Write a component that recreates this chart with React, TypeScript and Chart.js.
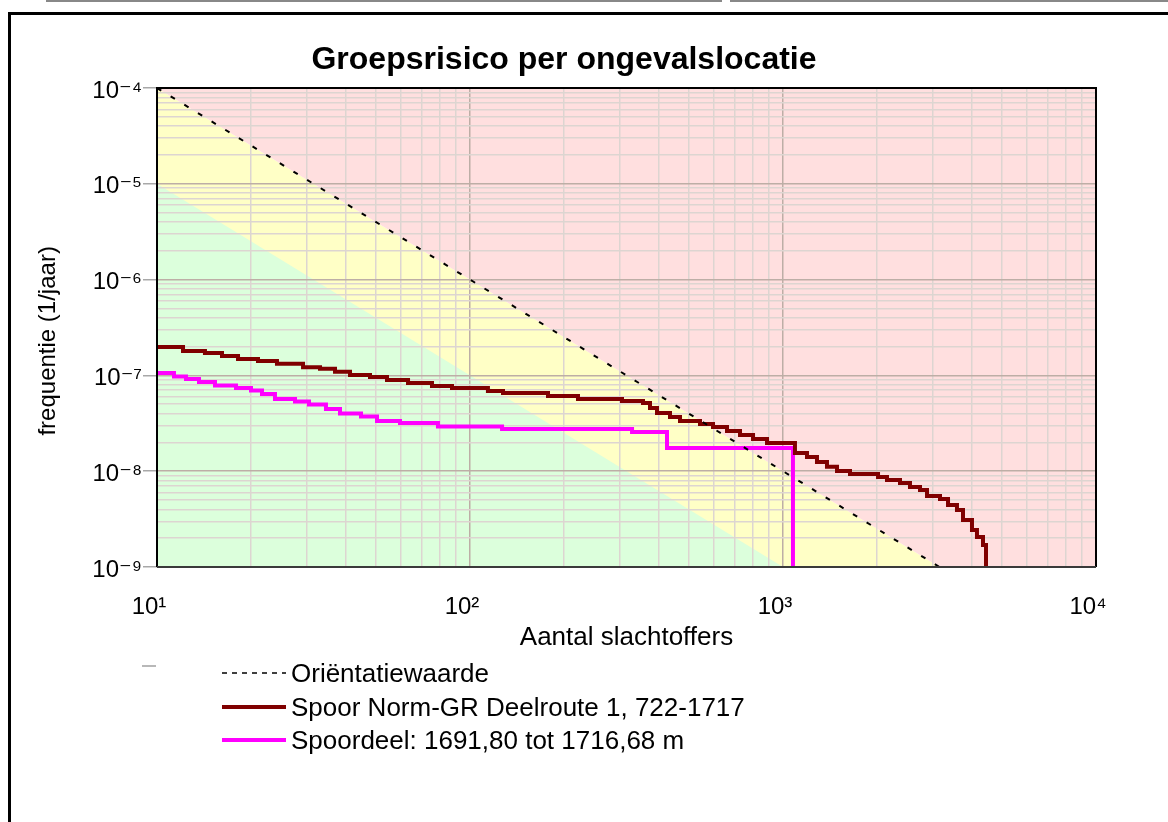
import React, { useEffect, useRef } from "react";
import { Chart, registerables } from "chart.js";

Chart.register(...registerables);

const FONT = "'Liberation Sans', Arial, 'DejaVu Sans', sans-serif";

const chartTitle = "Groepsrisico per ongevalslocatie";
const xAxisTitle = "Aantal slachtoffers";
const yAxisTitle = "frequentie (1/jaar)";
const seriesLabels = [
  "Oriëntatiewaarde",
  "Spoor Norm-GR Deelroute 1, 722-1717",
  "Spoordeel: 1691,80 tot 1716,68 m",
];
const seriesColors = ["#000000", "#800000", "#ff00ff"];

const xDecades = [10, 100, 1000, 10000];
const xTickLabels = ["10¹", "10²", "10³", "10⁴"];
const yDecades = [1e-9, 1e-8, 1e-7, 1e-6, 1e-5, 1e-4];
const yTickLabels = ["10⁻⁹", "10⁻⁸", "10⁻⁷", "10⁻⁶", "10⁻⁵", "10⁻⁴"];
const minorSteps = [1, 2, 3, 4, 5, 6, 7, 8, 9];

// Oriëntatiewaarde: F = 1e-2 / N^2
const orientationN = [10, 3162.28];
const orientationF = [1e-4, 1e-9];

// zone boundaries (red above orientation line, yellow between, green below)
const redZoneEdgeN = [10, 10000];
const redZoneEdgeF = [1e-4, 1e-10];
const greenZoneEdgeN = [10, 10000];
const greenZoneEdgeF = [1e-5, 1e-11];

const routeN = [10, 12.11, 14.23, 16.13, 18.15, 21.02, 24.17, 29.28, 33.18, 37.05, 41.37, 47.92, 54.3, 63.39, 75.6, 87.6, 114.1, 127.5, 177.5, 221.3, 305.9, 357.1, 375.9, 395.8, 435.5, 468.8, 543.0, 597.6, 662.4, 728.9, 802.2, 889.1, 1092, 1193, 1284, 1382, 1488, 1637, 2012, 2149, 2365, 2545, 2740, 2885, 3174, 3367, 3596, 3759, 4016, 4166, 4355, 4452];
const routeF = [1.98e-7, 1.8e-7, 1.71e-7, 1.59e-7, 1.48e-7, 1.41e-7, 1.32e-7, 1.22e-7, 1.17e-7, 1.09e-7, 1.01e-7, 9.6e-8, 8.95e-8, 8.33e-8, 7.75e-8, 7.39e-8, 6.87e-8, 6.55e-8, 6.1e-8, 5.67e-8, 5.4e-8, 5.15e-8, 4.57e-8, 4.05e-8, 3.68e-8, 3.34e-8, 3.11e-8, 2.89e-8, 2.63e-8, 2.39e-8, 2.17e-8, 1.97e-8, 1.55e-8, 1.41e-8, 1.25e-8, 1.11e-8, 1.005e-8, 9.35e-9, 8.7e-9, 8.09e-9, 7.53e-9, 6.84e-9, 6.37e-9, 5.51e-9, 5.13e-9, 4.44e-9, 3.94e-9, 3.09e-9, 2.43e-9, 2.06e-9, 1.7e-9, 1e-9];

const sectionN = [10, 11.33, 12.38, 13.62, 15.32, 17.88, 19.97, 21.65, 23.82, 27.6, 30.59, 34.66, 38.43, 44.85, 50.46, 59.76, 79.0, 126.6, 329.4, 426.0, 1076];
const sectionF = [1.06e-7, 9.74e-8, 9.17e-8, 8.53e-8, 7.84e-8, 7.39e-8, 6.96e-8, 6.39e-8, 5.67e-8, 5.34e-8, 4.97e-8, 4.46e-8, 4.0e-8, 3.72e-8, 3.34e-8, 3.18e-8, 2.93e-8, 2.76e-8, 2.57e-8, 1.75e-8, 1e-9];

const zoneColors = ["#ffdfdf", "#ffffc6", "#dcffdc"];

const pts = (xs: number[], ys: number[]) => xs.map((x, i) => ({ x, y: ys[i] }));

const buildTicks = (decades: number[]) => {
  const out: number[] = [];
  decades.slice(0, -1).forEach((d) => minorSteps.forEach((m) => out.push(m * d)));
  out.push(decades[decades.length - 1]);
  return out;
};

const isDecade = (v: number) => {
  const l = Math.log10(v);
  return Math.abs(l - Math.round(l)) < 1e-6;
};

const labelFor = (v: number, decades: number[], labels: string[]) => {
  for (let i = 0; i < decades.length; i++) {
    if (Math.abs(v / decades[i] - 1) < 1e-6) return labels[i];
  }
  return "";
};

const gridColor = (ctx: any) =>
  ctx.tick && isDecade(ctx.tick.value) ? "#bdaea6" : "#ddd5d1";

const frameBorder = {
  id: "plotFrame",
  afterDatasetsDraw(chart: any) {
    const { ctx, chartArea: a } = chart;
    ctx.save();
    ctx.lineWidth = 2;
    ctx.strokeStyle = "#000";
    ctx.beginPath();
    ctx.moveTo(a.left, a.bottom);
    ctx.lineTo(a.left, a.top);
    ctx.lineTo(a.right, a.top);
    ctx.lineTo(a.right, a.bottom);
    ctx.stroke();
    ctx.strokeStyle = "#3a3a3a";
    ctx.beginPath();
    ctx.moveTo(a.left, a.bottom);
    ctx.lineTo(a.right, a.bottom);
    ctx.stroke();
    ctx.restore();
  },
};

const zone = (xs: number[], ys: number[], fill: string, color: string) => ({
  label: "",
  data: pts(xs, ys),
  borderWidth: 0,
  pointRadius: 0,
  fill,
  backgroundColor: color,
  borderColor: "rgba(0,0,0,0)",
});

function FnChart() {
  const ref = useRef<HTMLCanvasElement | null>(null);
  useEffect(() => {
    if (!ref.current) return;
    const chart = new Chart(ref.current, {
      type: "line",
      data: {
        datasets: [
          zone(redZoneEdgeN, redZoneEdgeF, "end", zoneColors[0]),
          zone(greenZoneEdgeN, greenZoneEdgeF, "start", zoneColors[2]),
          zone(redZoneEdgeN, redZoneEdgeF, "start", zoneColors[1]),
          {
            label: seriesLabels[0],
            data: pts(orientationN, orientationF),
            borderColor: seriesColors[0],
            borderWidth: 2,
            borderDash: [5, 11],
            pointRadius: 0,
            fill: false,
          },
          {
            label: seriesLabels[1],
            data: pts(routeN, routeF),
            borderColor: seriesColors[1],
            borderWidth: 4,
            stepped: true,
            pointRadius: 0,
            fill: false,
            borderJoinStyle: "miter",
            borderCapStyle: "butt",
          },
          {
            label: seriesLabels[2],
            data: pts(sectionN, sectionF),
            borderColor: seriesColors[2],
            borderWidth: 4,
            stepped: true,
            pointRadius: 0,
            fill: false,
            borderJoinStyle: "miter",
            borderCapStyle: "butt",
          },
        ],
      },
      options: {
        animation: false,
        responsive: false,
        events: [],
        layout: { padding: { left: 0, right: 0, top: 0, bottom: 0 } },
        plugins: {
          legend: { display: false },
          tooltip: { enabled: false },
          filler: { drawTime: "beforeDraw" },
          title: {
            display: true,
            text: chartTitle,
            color: "#000",
            font: { family: FONT, size: 32, weight: "bold" },
            padding: { top: 27, bottom: 8.6 },
          },
        },
        scales: {
          x: {
            type: "logarithmic",
            min: xDecades[0],
            max: xDecades[xDecades.length - 1],
            afterBuildTicks: (s: any) => {
              s.ticks = buildTicks(xDecades).map((v) => ({ value: v, major: isDecade(v) }));
            },
            afterFit: (s: any) => {
              s.height = 87;
            },
            ticks: {
              autoSkip: false,
              maxRotation: 0,
              minRotation: 0,
              padding: 0,
              labelOffset: -8,
              color: "#000",
              font: { family: FONT, size: 24 },
              callback: (v: any) => labelFor(Number(v), xDecades, xTickLabels),
            },
            grid: {
              color: gridColor,
              lineWidth: 1.5,
              drawTicks: true,
              tickLength: 26,
              tickColor: "rgba(0,0,0,0)",
            },
            border: { display: false },
            title: {
              display: true,
              text: xAxisTitle,
              color: "#000",
              font: { family: FONT, size: 26 },
              padding: { top: 0, bottom: 1 },
            },
          },
          y: {
            type: "logarithmic",
            min: yDecades[0],
            max: yDecades[yDecades.length - 1],
            afterBuildTicks: (s: any) => {
              s.ticks = buildTicks(yDecades).map((v) => ({ value: v, major: isDecade(v) }));
            },
            afterFit: (s: any) => {
              s.width = 147;
            },
            ticks: {
              autoSkip: false,
              padding: 1,
              labelOffset: 3,
              color: "#000",
              font: { family: FONT, size: 24 },
              callback: (v: any) => labelFor(Number(v), yDecades, yTickLabels),
            },
            grid: {
              color: gridColor,
              lineWidth: 1.5,
              drawTicks: true,
              tickLength: 14,
              tickColor: (ctx: any) =>
                ctx.tick && isDecade(ctx.tick.value) ? "#a8a8a8" : "rgba(0,0,0,0)",
            },
            border: { display: false },
            title: {
              display: true,
              text: yAxisTitle + "\u00a0\u00a0\u00a0\u00a0",
              color: "#000",
              font: { family: FONT, size: 24 },
              padding: { top: 23.6, bottom: 0 },
            },
          },
          y2: {
            type: "logarithmic",
            position: "right",
            min: yDecades[0],
            max: yDecades[yDecades.length - 1],
            afterFit: (s: any) => {
              s.width = 22;
            },
            ticks: { display: false },
            grid: { display: false, drawTicks: false },
            border: { display: false },
          },
        },
      },
      plugins: [frameBorder],
    } as any);
    return () => chart.destroy();
  }, []);
  return <canvas ref={ref} width={1108} height={640} style={{ width: 1108, height: 640, display: "block" }} />;
}

const legendRowsY = [673, 707, 740];

export default function App() {
  return (
    <div
      style={{
        position: "absolute",
        left: 0,
        top: 0,
        width: 1168,
        height: 822,
        overflow: "hidden",
        background: "#fff",
        fontFamily: FONT,
      }}
    >
      <div style={{ position: "absolute", left: 46, top: 0, width: 676, height: 2, background: "#888" }} />
      <div style={{ position: "absolute", left: 730, top: 0, width: 438, height: 2, background: "#888" }} />
      <div
        style={{
          position: "absolute",
          left: 8,
          top: 12,
          width: 1200,
          height: 900,
          borderLeft: "3px solid #000",
          borderTop: "3px solid #000",
        }}
      />
      <div style={{ position: "absolute", left: 10, top: 14 }}>
        <FnChart />
      </div>
      <svg style={{ position: "absolute", left: 0, top: 0 }} width={1168} height={822}>
        <line x1={142} y1={666} x2={156} y2={666} stroke="#b8b8b8" strokeWidth={2} />
        <line x1={222} y1={legendRowsY[0]} x2={286} y2={legendRowsY[0]} stroke={seriesColors[0]} strokeWidth={1.6} strokeDasharray="5,5" />
        <line x1={222} y1={legendRowsY[1]} x2={286} y2={legendRowsY[1]} stroke={seriesColors[1]} strokeWidth={4} />
        <line x1={222} y1={legendRowsY[2]} x2={286} y2={legendRowsY[2]} stroke={seriesColors[2]} strokeWidth={4} />
      </svg>
      {seriesLabels.map((lab, i) => (
        <div
          key={lab}
          style={{
            position: "absolute",
            left: 291,
            top: legendRowsY[i] - 16,
            height: 32,
            lineHeight: "32px",
            fontSize: 26,
            color: "#000",
            whiteSpace: "nowrap",
          }}
        >
          {lab}
        </div>
      ))}
    </div>
  );
}
